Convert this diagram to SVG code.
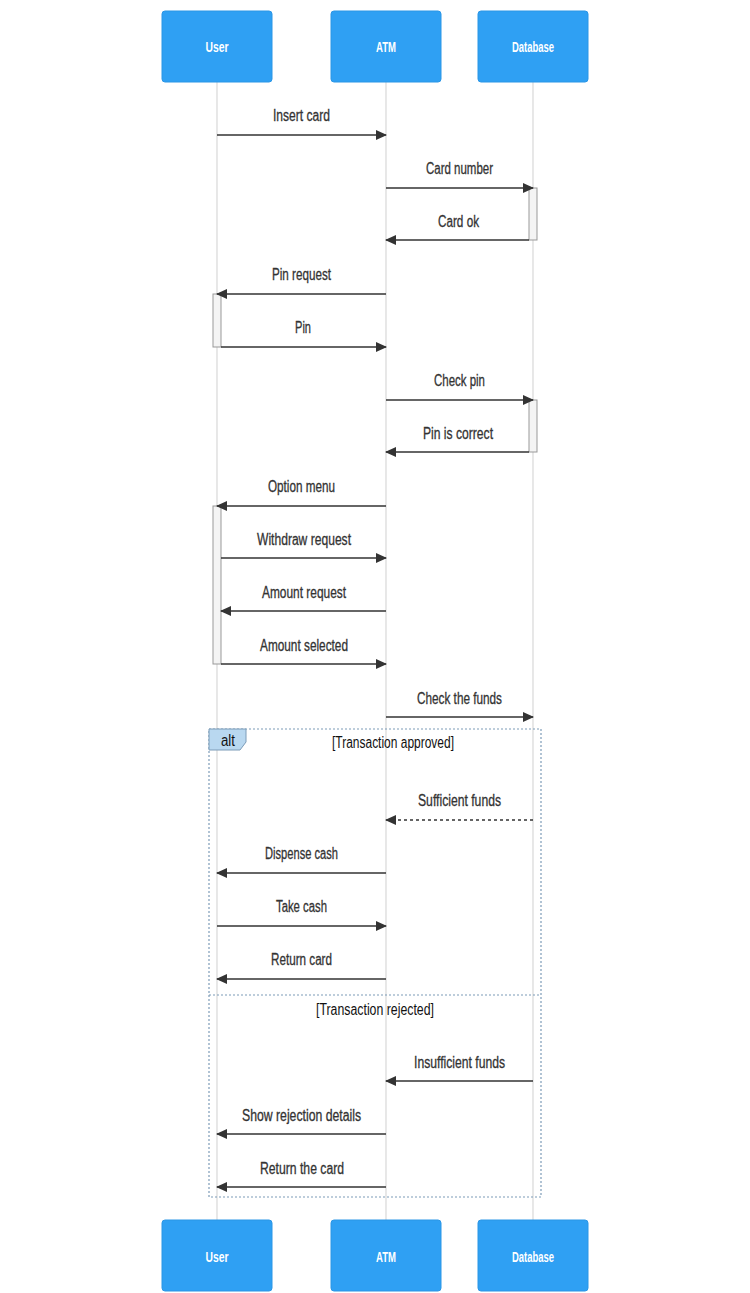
<svg xmlns="http://www.w3.org/2000/svg" width="750" height="1293" viewBox="0 0 750 1293">
<style>
.actor{fill:#2fa0f3;stroke:#2b96e6;stroke-width:1}
.aname{fill:#fff;font-family:"Liberation Sans",Arial,sans-serif;font-weight:bold;font-size:15.5px;text-anchor:middle}
.life{stroke:#d8d8d8;stroke-width:1.2}
.msg{stroke:#333;stroke-width:1.5;fill:none}
.dash{stroke-dasharray:3,3}
.lbl{fill:#333;stroke:#333;stroke-width:0.3;font-family:"Liberation Sans",Arial,sans-serif;font-size:16px;text-anchor:middle}
.act{fill:#f4f4f4;stroke:#999;stroke-width:1}
.frame{fill:none;stroke:#7d9cb8;stroke-width:1.2;stroke-dasharray:2,2}
.ftxt{fill:#111;font-family:"Liberation Sans",Arial,sans-serif;font-size:16px;text-anchor:middle}
</style>
<defs>
<marker id="ah" viewBox="0 0 11 10" refX="10" refY="5" markerWidth="11" markerHeight="10" markerUnits="userSpaceOnUse" orient="auto">
<path d="M0,0 L11,5 L0,10 z" fill="#333"/>
</marker>
</defs>
<rect width="750" height="1293" fill="#fff"/>
<g id="lifelines">
<line class="life" x1="217" y1="82" x2="217" y2="1220"/>
<line class="life" x1="386" y1="82" x2="386" y2="1220"/>
<line class="life" x1="533" y1="82" x2="533" y2="1220"/>
</g>
<g id="user-top"><rect class="actor" x="162" y="11" width="110" height="71" rx="3"/><text class="aname" x="217" y="52" textLength="23" lengthAdjust="spacingAndGlyphs">User</text></g>
<g id="atm-top"><rect class="actor" x="331" y="11" width="110" height="71" rx="3"/><text class="aname" x="386" y="52" textLength="20" lengthAdjust="spacingAndGlyphs">ATM</text></g>
<g id="db-top"><rect class="actor" x="478" y="11" width="110" height="71" rx="3"/><text class="aname" x="533" y="52" textLength="42" lengthAdjust="spacingAndGlyphs">Database</text></g>
<g id="user-bottom"><rect class="actor" x="162" y="1220" width="110" height="71" rx="3"/><text class="aname" x="217" y="1262" textLength="23" lengthAdjust="spacingAndGlyphs">User</text></g>
<g id="atm-bottom"><rect class="actor" x="331" y="1220" width="110" height="71" rx="3"/><text class="aname" x="386" y="1262" textLength="20" lengthAdjust="spacingAndGlyphs">ATM</text></g>
<g id="db-bottom"><rect class="actor" x="478" y="1220" width="110" height="71" rx="3"/><text class="aname" x="533" y="1262" textLength="42" lengthAdjust="spacingAndGlyphs">Database</text></g>
<g id="activations">
<rect class="act" x="529" y="188" width="8" height="52"/>
<rect class="act" x="213" y="294" width="8" height="53"/>
<rect class="act" x="529" y="400" width="8" height="52"/>
<rect class="act" x="213" y="506" width="8" height="158"/>
</g>
<g id="alt-frame">
<rect class="frame" x="209" y="729" width="332" height="468"/>
<path d="M209,729 H246 V742 L240,750 H209 Z" fill="#b9d8f0" stroke="#7d9cb8" stroke-width="1"/>
<text class="ftxt" x="228" y="746" textLength="14" lengthAdjust="spacingAndGlyphs">alt</text>
<text class="ftxt" x="393" y="748" textLength="122" lengthAdjust="spacingAndGlyphs">[Transaction approved]</text>
<line class="frame" x1="209" y1="995" x2="541" y2="995"/>
<text class="ftxt" x="375" y="1015" textLength="118" lengthAdjust="spacingAndGlyphs">[Transaction rejected]</text>
</g>
<g id="connectors">
<line class="msg" x1="217" y1="135" x2="386" y2="135" marker-end="url(#ah)"/>
<text class="lbl" x="301.5" y="121" textLength="57" lengthAdjust="spacingAndGlyphs">Insert card</text>
<line class="msg" x1="386" y1="188" x2="533" y2="188" marker-end="url(#ah)"/>
<text class="lbl" x="459.5" y="174" textLength="67" lengthAdjust="spacingAndGlyphs">Card number</text>
<line class="msg" x1="529" y1="240" x2="386" y2="240" marker-end="url(#ah)"/>
<text class="lbl" x="458.5" y="227" textLength="41" lengthAdjust="spacingAndGlyphs">Card ok</text>
<line class="msg" x1="386" y1="294" x2="217" y2="294" marker-end="url(#ah)"/>
<text class="lbl" x="301.5" y="280" textLength="59" lengthAdjust="spacingAndGlyphs">Pin request</text>
<line class="msg" x1="221" y1="347" x2="386" y2="347" marker-end="url(#ah)"/>
<text class="lbl" x="303" y="333" textLength="16" lengthAdjust="spacingAndGlyphs">Pin</text>
<line class="msg" x1="386" y1="400" x2="533" y2="400" marker-end="url(#ah)"/>
<text class="lbl" x="459.5" y="386" textLength="51" lengthAdjust="spacingAndGlyphs">Check pin</text>
<line class="msg" x1="529" y1="452" x2="386" y2="452" marker-end="url(#ah)"/>
<text class="lbl" x="458" y="439" textLength="70" lengthAdjust="spacingAndGlyphs">Pin is correct</text>
<line class="msg" x1="386" y1="506" x2="217" y2="506" marker-end="url(#ah)"/>
<text class="lbl" x="301.5" y="492" textLength="67" lengthAdjust="spacingAndGlyphs">Option menu</text>
<line class="msg" x1="221" y1="558" x2="386" y2="558" marker-end="url(#ah)"/>
<text class="lbl" x="304" y="545" textLength="94" lengthAdjust="spacingAndGlyphs">Withdraw request</text>
<line class="msg" x1="386" y1="611" x2="221" y2="611" marker-end="url(#ah)"/>
<text class="lbl" x="304" y="598" textLength="84" lengthAdjust="spacingAndGlyphs">Amount request</text>
<line class="msg" x1="221" y1="664" x2="386" y2="664" marker-end="url(#ah)"/>
<text class="lbl" x="304" y="651" textLength="88" lengthAdjust="spacingAndGlyphs">Amount selected</text>
<line class="msg" x1="386" y1="717" x2="533" y2="717" marker-end="url(#ah)"/>
<text class="lbl" x="459.5" y="704" textLength="85" lengthAdjust="spacingAndGlyphs">Check the funds</text>
<line class="msg dash" x1="533" y1="820" x2="386" y2="820" marker-end="url(#ah)"/>
<text class="lbl" x="459.5" y="806" textLength="83" lengthAdjust="spacingAndGlyphs">Sufficient funds</text>
<line class="msg" x1="386" y1="873" x2="217" y2="873" marker-end="url(#ah)"/>
<text class="lbl" x="301.5" y="859" textLength="73" lengthAdjust="spacingAndGlyphs">Dispense cash</text>
<line class="msg" x1="217" y1="926" x2="386" y2="926" marker-end="url(#ah)"/>
<text class="lbl" x="301.5" y="912" textLength="51" lengthAdjust="spacingAndGlyphs">Take cash</text>
<line class="msg" x1="386" y1="979" x2="217" y2="979" marker-end="url(#ah)"/>
<text class="lbl" x="301.5" y="965" textLength="61" lengthAdjust="spacingAndGlyphs">Return card</text>
<line class="msg" x1="533" y1="1081" x2="386" y2="1081" marker-end="url(#ah)"/>
<text class="lbl" x="459.5" y="1068" textLength="91" lengthAdjust="spacingAndGlyphs">Insufficient funds</text>
<line class="msg" x1="386" y1="1134" x2="217" y2="1134" marker-end="url(#ah)"/>
<text class="lbl" x="301.5" y="1121" textLength="119" lengthAdjust="spacingAndGlyphs">Show rejection details</text>
<line class="msg" x1="386" y1="1187" x2="217" y2="1187" marker-end="url(#ah)"/>
<text class="lbl" x="302" y="1174" textLength="84" lengthAdjust="spacingAndGlyphs">Return the card</text>
</g>
</svg>
